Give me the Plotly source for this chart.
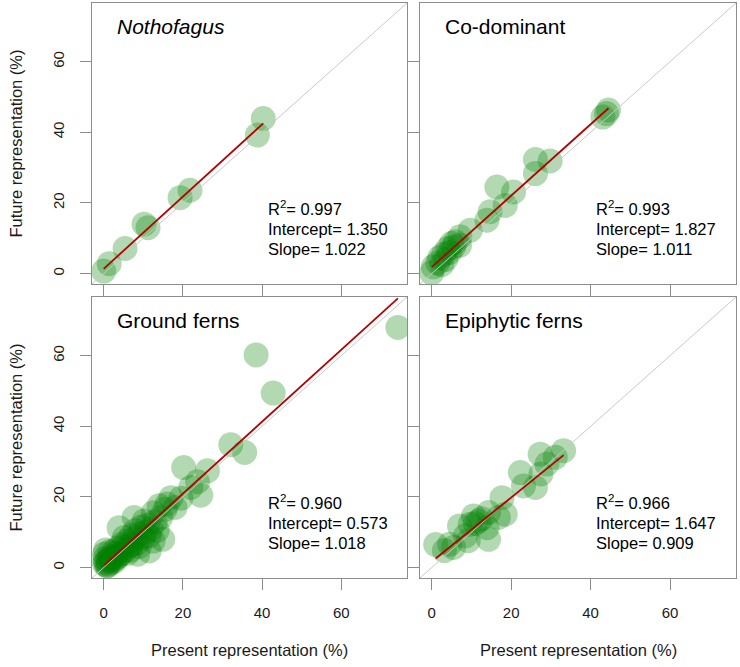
import plotly.graph_objects as go

# ---------------- data ----------------
panel_titles = ["<i>Nothofagus</i>", "Co-dominant", "Ground ferns", "Epiphytic ferns"]

notho_x = [0.0, 1.4, 5.4, 10.2, 11.2, 19.3, 21.8, 38.8, 40.3]
notho_y = [0.7, 2.8, 7.1, 14.0, 13.0, 21.5, 23.6, 39.2, 43.9]

codom_x = [0.0, 0.4, 1.5, 2.0, 2.5, 3.0, 3.5, 4.0, 4.5, 5.0, 5.5, 6.0, 7.0, 7.1, 9.7,
           13.9, 14.7, 16.4, 18.5, 20.6, 26.1, 26.1, 29.8, 43.1, 44.0, 44.5]
codom_y = [0.2, 1.9, 3.0, 4.5, 2.5, 5.5, 4.0, 7.0, 6.0, 8.5, 7.5, 9.0, 8.0, 10.4, 12.3,
           15.1, 17.5, 24.5, 19.3, 23.1, 32.3, 28.3, 31.9, 44.3, 45.3, 46.3]

gfern_x = [0.2, 0.2, 0.5, 0.8, 1.0, 1.2, 1.5, 2.0, 2.2, 2.5, 3.0, 3.2, 3.5, 3.9, 4.0,
           4.5, 5.0, 5.2, 5.5, 6.0, 6.5, 6.8, 7.0, 7.5, 7.7, 8.0, 8.5, 8.6, 9.0, 9.5,
           10.2, 10.5, 11.0, 11.5, 12.0, 12.5, 13.0, 13.5, 14.0, 14.4, 14.9, 15.5, 16.0,
           17.0, 18.0, 19.5, 20.2, 22.0, 23.7, 24.5, 26.2, 32.1, 35.6, 38.5, 42.8, 74.3,
           0.5, 1.0, 1.8, 0.3, 2.8, 1.5, 3.5, 4.5, 6.0, 7.0, 9.0, 10.0, 11.5, 12.5]
gfern_y = [3.8, 1.0, 5.0, 0.5, 2.0, 1.0, 3.0, 1.5, 2.8, 4.5, 2.5, 4.0, 5.5, 11.3, 3.5,
           6.5, 6.0, 8.5, 5.0, 7.5, 6.0, 5.0, 9.0, 8.0, 14.2, 10.5, 7.0, 3.8, 9.5, 11.5,
           13.2, 10.0, 12.0, 4.7, 11.0, 15.5, 13.0, 10.5, 17.5, 14.2, 8.0, 16.5, 18.0,
           19.8, 17.0, 19.6, 28.3, 22.7, 24.3, 20.5, 27.4, 34.8, 32.6, 60.2, 49.4, 68.0,
           1.5, 0.5, 2.2, 2.5, 1.8, 4.5, 3.0, 4.0, 4.0, 6.5, 6.0, 8.5, 9.0, 7.5]

epi_x = [1.0, 3.2, 4.5, 5.5, 7.0, 8.5, 9.2, 9.7, 10.5, 11.0, 11.8, 12.5, 13.9, 14.3,
         14.3, 16.8, 17.7, 18.5, 22.3, 23.1, 26.1, 27.3, 27.5, 29.0, 31.1, 33.2]
epi_y = [6.5, 4.8, 6.6, 5.7, 11.8, 9.0, 7.6, 12.3, 14.6, 12.5, 13.2, 13.8, 11.3, 15.6,
         8.0, 14.2, 19.8, 15.1, 26.9, 23.1, 22.7, 32.1, 26.5, 29.3, 31.2, 33.1]

r2_vals = ["0.997", "0.993", "0.960", "0.966"]
intercepts = [1.350, 1.827, 0.573, 1.647]
slopes = [1.022, 1.011, 1.018, 0.909]

tick_vals = [0, 20, 40, 60]
axis_range = [-2.95, 76.6]

xs = [notho_x, codom_x, gfern_x, epi_x]
ys = [notho_y, codom_y, gfern_y, epi_y]

# ---------------- layout geometry ----------------
W, H = 740, 667
col_px = [(92, 407), (420, 736)]
row_px = [(3, 284), (297, 578)]

fig = go.Figure()

box_col = "#8c8c8c"
txt_col = "#1a1a1a"
font_fam = "Liberation Sans, Arial, sans-serif"

for i in range(4):
    r, c = divmod(i, 2)
    sfx = "" if i == 0 else str(i + 1)
    xa, ya = "x" + sfx, "y" + sfx
    x0p, x1p = col_px[c]
    y0p, y1p = row_px[r]
    xdom = [x0p / W, x1p / W]
    ydom = [(H - y1p) / H, (H - y0p) / H]

    fig.add_trace(go.Scatter(
        x=xs[i], y=ys[i], mode="markers", xaxis=xa, yaxis=ya,
        marker=dict(size=25, color="rgba(0,128,0,0.3)", line=dict(width=0)),
        showlegend=False, hoverinfo="skip"))
    # identity line
    fig.add_trace(go.Scatter(
        x=axis_range, y=axis_range, mode="lines", xaxis=xa, yaxis=ya,
        line=dict(color="#c8c8c8", width=1), showlegend=False, hoverinfo="skip"))
    # regression line
    xmin, xmax = min(xs[i]), max(xs[i])
    fig.add_trace(go.Scatter(
        x=[xmin, xmax],
        y=[intercepts[i] + slopes[i] * xmin, intercepts[i] + slopes[i] * xmax],
        mode="lines", xaxis=xa, yaxis=ya,
        line=dict(color="rgb(180,0,0)", width=1.8), showlegend=False, hoverinfo="skip"))

    common = dict(range=axis_range, tickvals=tick_vals, showgrid=False, zeroline=False,
                  showline=True, linecolor=box_col, linewidth=1, mirror=True,
                  ticks="outside", ticklen=11, tickcolor=box_col, tickwidth=1,
                  tickfont=dict(size=15, color=txt_col, family=font_fam))
    fig.layout["xaxis" + sfx] = dict(common, domain=xdom, anchor=ya,
                                     showticklabels=(r == 1), ticklabelstandoff=10)
    fig.layout["yaxis" + sfx] = dict(common, domain=ydom, anchor=xa,
                                     showticklabels=(c == 0), tickangle=-90,
                                     ticklabelstandoff=10)

    # panel title
    fig.add_annotation(text=panel_titles[i], xref=xa + " domain", yref=ya + " domain",
                       x=0.073, y=0.915, xanchor="left", yanchor="middle",
                       showarrow=False, font=dict(size=21, color="black", family=font_fam))
    stats = ["R<sup>2</sup>= " + r2_vals[i],
             "Intercept= %.3f" % intercepts[i],
             "Slope= %.3f" % slopes[i]]
    for txt, yy in zip(stats, [0.27, 0.196, 0.125]):
        fig.add_annotation(text=txt, xref=xa + " domain", yref=ya + " domain",
                           x=0.552, y=yy, xanchor="left", yanchor="middle",
                           showarrow=False, font=dict(size=16.5, color="black", family=font_fam))

# axis titles
for (y0p, y1p) in row_px:
    fig.add_annotation(text="Future representation (%)", xref="paper", yref="paper",
                       x=15 / W, y=(H - (y0p + y1p) / 2) / H, textangle=-90,
                       xanchor="center", yanchor="middle", showarrow=False,
                       font=dict(size=16.5, color=txt_col, family=font_fam))
for (x0p, x1p) in col_px:
    fig.add_annotation(text="Present representation (%)", xref="paper", yref="paper",
                       x=(x0p + x1p) / 2 / W, y=(H - 650) / H,
                       xanchor="center", yanchor="middle", showarrow=False,
                       font=dict(size=16.5, color=txt_col, family=font_fam))

fig.update_layout(width=W, height=H, margin=dict(l=0, r=0, t=0, b=0),
                  plot_bgcolor="white", paper_bgcolor="white",
                  font=dict(family=font_fam))

fig.write_html("out.html", config={"displayModeBar": False},
               post_script="document.body.style.margin='0px';")
